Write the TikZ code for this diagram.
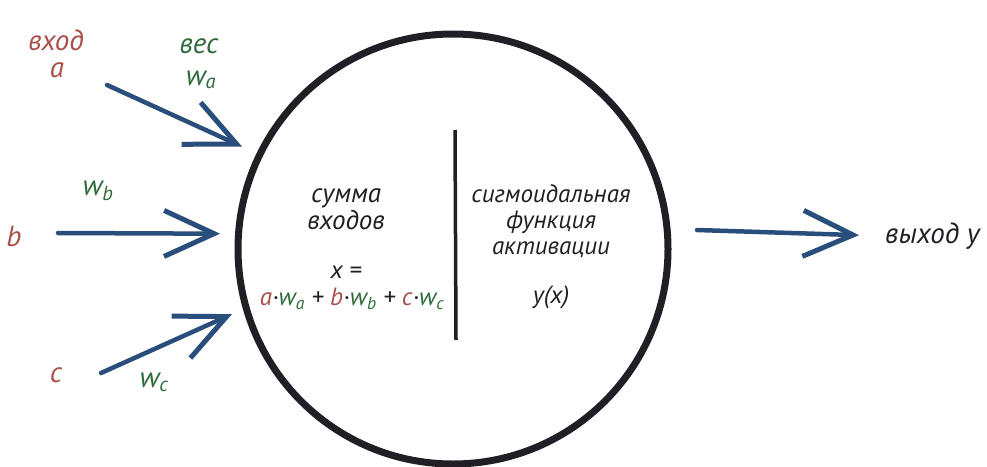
\documentclass[tikz,border=0pt]{standalone}
\usepackage{fontspec}
\setmainfont{PT Sans}
\usetikzlibrary{arrows.meta}
\definecolor{inred}{HTML}{A8504A}
\definecolor{wgreen}{HTML}{2E6A3A}
\definecolor{arrblue}{HTML}{2A4E7C}
\definecolor{ink}{HTML}{221E26}
\tikzset{
  txt/.style={font=\fontsize{27}{27}\selectfont\itshape, text=ink, inner sep=0pt, align=center},
  midtxt/.style={txt, font=\fontsize{25}{26}\selectfont\itshape},
  outtxt/.style={txt, font=\fontsize{29}{30}\selectfont\itshape},
  redtxt/.style={outtxt, text=inred},
  greentxt/.style={outtxt, text=wgreen},
  inarrow/.style={draw=arrblue, line width=4.5pt, line cap=round,
    -{Straight Barb[length=50pt,width=46pt,line width=5pt]}},
}
\begin{document}
\begin{tikzpicture}[x=1pt,y=-1pt]
\useasboundingbox (0,0) rectangle (987,466);
% neuron body
\node[circle, draw=ink, line width=7pt, minimum size=430pt, inner sep=0pt] (neuron) at (453,249) {};
\coordinate (divtop) at (455,130);
\coordinate (divbot) at (456,340);
\draw[ink, line width=3.5pt] (divtop) -- (divbot);
% labels
\node[redtxt] (lin) at (56,40) {вход};
\node[redtxt] (la) at (57,70) {a};
\node[greentxt] (lves) at (199,46) {вес};
\node[greentxt] (lwa) at (201,80) {w\textsubscript{a}};
\node[greentxt] (lwb) at (98,191) {w\textsubscript{b}};
\node[redtxt] (lb) at (14,236) {b};
\node[redtxt] (lc) at (56,375) {c};
\node[greentxt] (lwc) at (154,382) {w\textsubscript{c}};
% inside
\node[txt] (sum) at (346,209) {сумма\\входов};
\node[midtxt] (xeq) at (346,272) {x =};
\node[midtxt] (formula) at (352,299) {\textcolor{inred}{a}·\textcolor{wgreen}{w\textsubscript{a}} + \textcolor{inred}{b}·\textcolor{wgreen}{w\textsubscript{b}} + \textcolor{inred}{c}·\textcolor{wgreen}{w\textsubscript{c}}};
\node[midtxt] (sig) at (551,221) {сигмоидальная\\функция\\активации};
\node[midtxt] (yx) at (551,297) {y(x)};
\node[outtxt, anchor=west] (out) at (885,236) {выход y};
% arrows
\coordinate (sa) at (107,85);
\coordinate (sb) at (58,233);
\coordinate (sc) at (101,373);
\coordinate (sy) at (697,230);
\draw[inarrow, shorten >=16pt] (sa) -- (neuron.154);
\draw[inarrow, shorten >=15pt] (sb) -- (neuron.176);
\draw[inarrow, shorten >=12pt] (sc) -- (neuron.196);
\draw[inarrow, shorten >=26pt] (sy) -- (out.west);
\end{tikzpicture}
\end{document}
